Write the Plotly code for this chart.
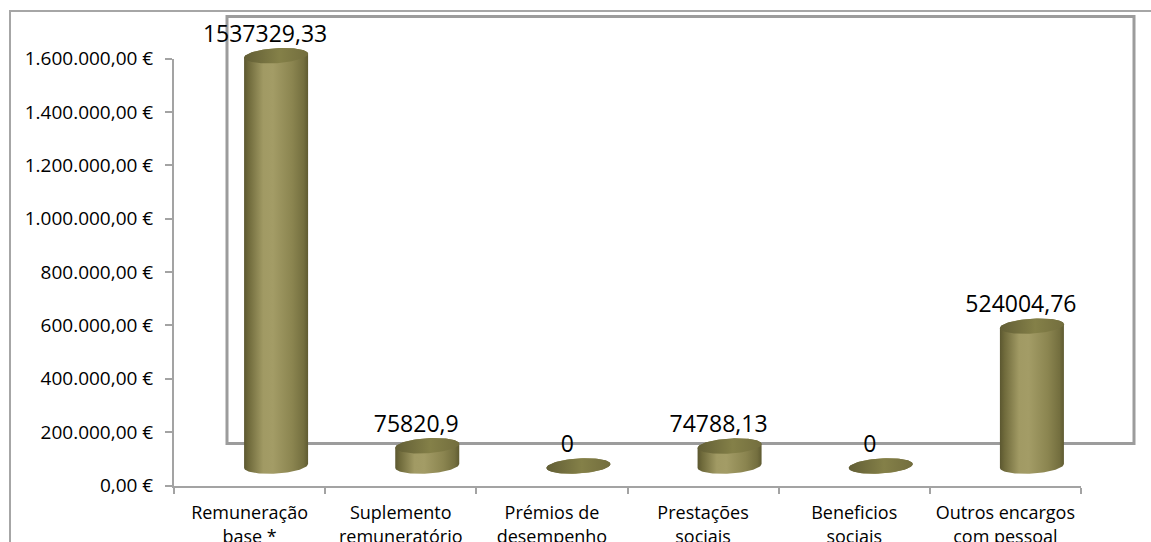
import numpy as np
import plotly.graph_objects as go

# ---- data -------------------------------------------------------------
categorias = [
    "Remuneração<br>base *",
    "Suplemento<br>remuneratório",
    "Prémios de<br>desempenho",
    "Prestações<br>sociais",
    "Beneficios<br>sociais",
    "Outros encargos<br>com pessoal",
]
valores = [1537329.33, 75820.9, 0, 74788.13, 0, 524004.76]
eixo_max = 1600000
eixo_passo = 200000


def rotulo(v):
    s = ("%.2f" % v).rstrip("0").rstrip(".")
    return s.replace(".", ",")


rotulos = [rotulo(v) for v in valores]

# ---- page / plot-area geometry (pixels) -------------------------------
W, H = 1151, 542
PX_LEFT, PX_RIGHT = 174, 1081       # plot area x extent
PX_TOP, PX_BOTTOM = 58.5, 485.5      # y of axis max / zero
n = len(categorias)
px_per_x = (PX_RIGHT - PX_LEFT) / n
px_per_y = (PX_BOTTOM - PX_TOP) / eixo_max
UX = 1 / px_per_x                    # data units per pixel (x)
UY = 1 / px_per_y                    # data units per pixel (y)

# 3-D look: depth shift of the cylinders and of the back wall
CYL_DX, CYL_DY = 26.5, 19.5
WALL_DX, WALL_DY = 53, 42
CYL_A, CYL_B, CYL_TILT = 32, 7.5, 0.06  # half width, half ellipse height, tilt
LABEL_DX, LABEL_DY = -11, 19.5

fig = go.Figure()

t_top = np.linspace(0, np.pi, 60)
t_bot = np.linspace(np.pi, 2 * np.pi, 60)
t_full = np.linspace(0, 2 * np.pi, 120)


def ring(cx, cy, t):
    x = cx + CYL_A * UX * np.cos(t)
    y = cy + (CYL_B * np.sin(t) + CYL_TILT * CYL_A * np.cos(t)) * UY
    return x, y


body_scale = [
    [0.0, "#5b5730"], [0.07, "#6f6a3b"], [0.3, "#a19a64"], [0.45, "#a39c66"],
    [0.75, "#8b8550"], [0.93, "#746f3f"], [1.0, "#5f5b32"],
]
cap_scale = [[0.0, "#625e35"], [0.55, "#848048"], [1.0, "#736e3e"]]

for i, v in enumerate(valores):
    cx = i + CYL_DX * UX
    base = CYL_DY * UY
    top = v + base
    xt, yt = ring(cx, top, t_top)
    xb, yb = ring(cx, base, t_bot)
    bx = np.concatenate([xt, xb, xt[:1]])
    by = np.concatenate([yt, yb, yt[:1]])
    fig.add_trace(go.Scatter(
        x=bx, y=by, xaxis="x2", yaxis="y2", mode="lines",
        line=dict(width=0), fill="toself",
        fillgradient=dict(type="horizontal", colorscale=body_scale),
        hoverinfo="skip", showlegend=False,
    ))
    cxs, cys = ring(cx, top, t_full)
    fig.add_trace(go.Scatter(
        x=cxs, y=cys, xaxis="x2", yaxis="y2", mode="lines",
        line=dict(width=0), fill="toself",
        fillgradient=dict(type="horizontal", colorscale=cap_scale),
        hoverinfo="skip", showlegend=False,
    ))

# value labels above each cylinder
fig.add_trace(go.Scatter(
    x=[i + (CYL_DX + LABEL_DX) * UX for i in range(n)],
    y=[v + (CYL_DY + LABEL_DY) * UY for v in valores],
    xaxis="x2", yaxis="y2", mode="text", text=rotulos,
    textposition="middle center",
    textfont=dict(family="Open Sans", size=23, color="#000000"),
    cliponaxis=False, hoverinfo="skip", showlegend=False,
))

# invisible trace to hold the visible category / value axes
fig.add_trace(go.Scatter(x=[0], y=[0], mode="markers",
                         marker=dict(opacity=0), hoverinfo="skip",
                         showlegend=False))

grey = "#a3a3a3"
fig.update_layout(
    template="none",
    width=W, height=H, autosize=False,
    margin=dict(l=0, r=0, t=0, b=0, pad=0),
    paper_bgcolor="white", plot_bgcolor="rgba(0,0,0,0)",
    separators=",.",
    font=dict(family="Open Sans", size=18, color="#000000"),
    xaxis=dict(
        automargin=False,
        domain=[PX_LEFT / W, PX_RIGHT / W],
        range=[-0.5, n - 0.5], showgrid=False, zeroline=False,
        tickmode="array", tickvals=list(range(n)), ticktext=categorias,
        ticks="", showline=True, linecolor=grey, linewidth=2,
        ticklabelstandoff=10,
        minor=dict(tickmode="array",
                   tickvals=[k - 0.5 for k in range(n + 1)],
                   ticks="outside", ticklen=6, tickwidth=2,
                   tickcolor=grey, showgrid=False),
        tickfont=dict(size=18),
    ),
    yaxis=dict(
        automargin=False,
        domain=[1 - PX_BOTTOM / H, 1 - PX_TOP / H],
        range=[0, eixo_max], dtick=eixo_passo, tick0=0, tickmode="linear",
        showgrid=False, zeroline=False,
        tickformat=",.2f", ticksuffix=" €",
        ticks="outside", ticklen=7, tickwidth=2, tickcolor=grey,
        showline=True, linecolor=grey, linewidth=2,
        ticklabelstandoff=8,
        tickfont=dict(size=19),
    ),
    xaxis2=dict(
        automargin=False,
        domain=[0, 1], anchor="y2", visible=False,
        range=[-0.5 - PX_LEFT * UX, -0.5 + (W - PX_LEFT) * UX],
    ),
    yaxis2=dict(
        automargin=False,
        domain=[0, 1], anchor="x2", visible=False,
        range=[-(H - PX_BOTTOM) * UY, PX_BOTTOM * UY],
    ),
    shapes=[
        # chart border
        dict(type="rect", xref="paper", yref="paper", layer="below",
             x0=10 / W, x1=(W + 10) / W, y0=-0.1, y1=1 - 11 / H,
             line=dict(color="#a6a6a6", width=2)),
        # back wall
        dict(type="rect", xref="paper", yref="paper", layer="below",
             x0=(PX_LEFT + WALL_DX) / W, x1=(PX_RIGHT + WALL_DX) / W,
             y0=1 - (PX_BOTTOM - WALL_DY) / H, y1=1 - (PX_TOP - WALL_DY) / H,
             line=dict(color="#9c9c9c", width=3)),
    ],
)

fig.write_html("out.html")
